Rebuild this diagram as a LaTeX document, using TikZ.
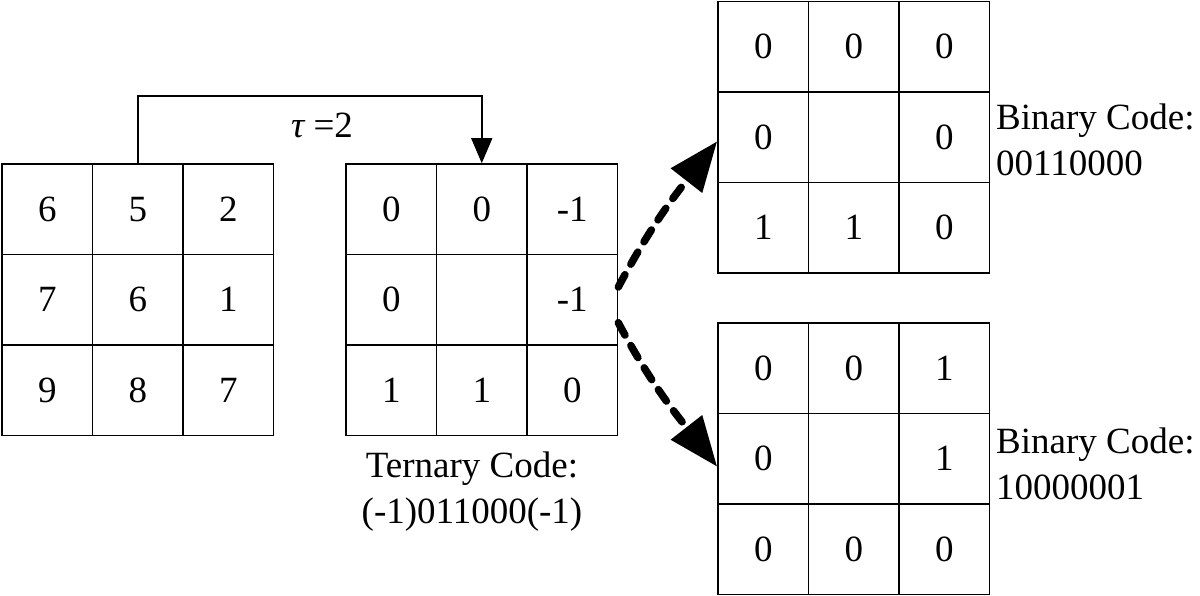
\documentclass[tikz,border=0pt]{standalone}
\usepackage{fontspec}
\setmainfont{Liberation Serif}
\usetikzlibrary{arrows.meta}
\newcommand\mygrid[4]{%
  \foreach \v [count=\i from 0] in {#4} {
    \pgfmathtruncatemacro\rr{floor(\i/3)+1}
    \pgfmathtruncatemacro\cc{mod(\i,3)+1}
    \node[cell] (#1-\rr-\cc) at ({#2+45.25+90.5*(\cc-1)}, {#3-45.25-90.5*(\rr-1)}) {\v};
  }%
}
\begin{document}
\begin{tikzpicture}[x=1pt,y=1pt,
  cell/.style={draw, line width=1.6pt, minimum size=90.5pt, inner sep=0pt, font=\fontsize{37}{44}\selectfont},
  lbl/.style={font=\fontsize{37}{46}\selectfont, inner sep=0pt},
  link/.style={line width=1.5pt, -{Triangle[length=25pt,width=21pt]}},
  dasharrow/.style={line width=7.5pt, line cap=round, dash pattern=on 14pt off 12pt, -{Triangle[length=50pt,width=38pt]}}]
\useasboundingbox (0,0) rectangle (1200,595);
\mygrid{g1}{2}{431}{6,5,2,7,6,1,9,8,7}
\mygrid{g2}{346}{431}{0,0,-1,0,{},-1,1,1,0}
\mygrid{g3}{718}{593.5}{0,0,0,0,{},0,1,1,0}
\mygrid{g4}{718}{272}{0,0,1,0,{},1,0,0,0}
\draw[link] (g1-1-2.north) -- ++(0,67) -| (g2-1-2.north);
\node[lbl] (tau) at (322,470) {{\itshape τ} =2};
\draw[dasharrow] ([yshift=12.75pt]g2-2-3.east) to[out=62,in=232] ([yshift=-4pt]g3-2-1.west);
\draw[dasharrow] ([yshift=-23pt]g2-2-3.east) to[out=-62,in=128] ([yshift=-8pt]g4-2-1.west);
\node[lbl, anchor=west, align=left] (b1) at (996,455) {Binary Code:\\00110000};
\node[lbl, anchor=west, align=left] (b2) at (996,131.5) {Binary Code:\\10000001};
\node[lbl, align=center] (tc) at (472,103.5) {Ternary Code:\\(-1)011000(-1)};
\end{tikzpicture}
\end{document}
